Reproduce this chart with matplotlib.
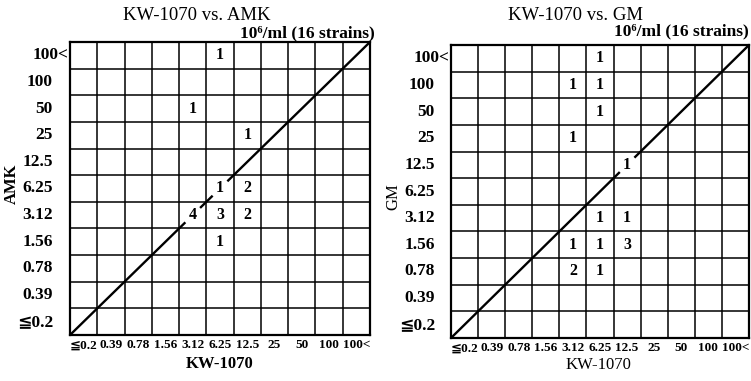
import numpy as np
import matplotlib
matplotlib.use('Agg')
import matplotlib.pyplot as plt

# MIC categories (same for both axes)
levels = ["≦0.2", "0.39", "0.78", "1.56", "3.12", "6.25", "12.5", "25", "50", "100", "100<"]

# KW-1070 vs AMK : (KW-1070 MIC, AMK MIC, number of strains)
amk_x = ["6.25", "3.12", "12.5", "6.25", "12.5", "3.12", "6.25", "12.5", "6.25"]
amk_y = ["100<", "50", "25", "6.25", "6.25", "3.12", "3.12", "3.12", "1.56"]
amk_n = [1, 1, 1, 1, 2, 4, 3, 2, 1]

# KW-1070 vs GM
gm_x = ["6.25", "3.12", "6.25", "6.25", "3.12", "12.5", "6.25", "12.5",
        "3.12", "6.25", "12.5", "3.12", "6.25"]
gm_y = ["100<", "100", "100", "50", "25", "12.5", "3.12", "3.12",
        "1.56", "1.56", "1.56", "0.78", "0.78"]
gm_n = [1, 1, 1, 1, 1, 1, 1, 1, 1, 1, 3, 2, 1]

SERIF = ['Liberation Serif', 'DejaVu Sans', 'Noto Sans CJK JP']
plt.rcParams['font.family'] = SERIF

W, H = 751, 381
fig = plt.figure(figsize=(W / 100, H / 100), dpi=100)


def rect(l, r, t, b):
    return [l / W, 1 - b / H, (r - l) / W, (b - t) / H]


def px(x, y):
    return x / W, 1 - y / H


def panel(ax, xs, ys, ns, ylab_right_px):
    n = len(levels)
    ax.set_xlim(0, n)
    ax.set_ylim(0, n)
    ax.set_xticks(range(n + 1))
    ax.set_yticks(range(n + 1))
    ax.set_xticklabels([])
    ax.set_yticklabels([])
    ax.grid(True, color='black', lw=1.1)
    ax.set_axisbelow(True)
    for s in ax.spines.values():
        s.set_linewidth(1.6)
    ax.set_xticks(np.arange(n) + 0.5, minor=True)
    ax.set_xticklabels(levels, minor=True, fontsize=9.5, fontweight='bold')
    ax.tick_params(which='both', length=0)
    ax.tick_params(which='minor', axis='x', pad=3)
    # y category labels
    width_px = ax.get_position().width * W
    for i, lab in enumerate(levels):
        off = ylab_right_px if not lab.endswith('<') else 2
        ax.text(-off / width_px, i + 0.5, lab, transform=ax.get_yaxis_transform(),
                ha='right', va='center', fontsize=12.5, fontweight='bold')
    # counts
    diag = []
    for x, y, c in zip(xs, ys, ns):
        ix, iy = levels.index(x), levels.index(y)
        ax.text(ix + 0.5, iy + 0.5, str(c), ha='center', va='center',
                fontsize=11.5, fontweight='bold')
        if ix == iy:
            diag.append(ix + 0.5)
    # identity line, interrupted at numbers lying on it
    gap = 0.27
    start = 0
    for g in sorted(diag):
        ax.plot([start, g - gap], [start, g - gap], color='black', lw=1.7,
                solid_capstyle='butt', clip_on=False)
        start = g + gap
    ax.plot([start, n], [start, n], color='black', lw=1.7,
            solid_capstyle='butt', clip_on=False)


ax1 = fig.add_axes(rect(70, 370, 42, 335))
panel(ax1, amk_x, amk_y, amk_n, 17)
ax2 = fig.add_axes(rect(451, 749, 45, 338))
panel(ax2, gm_x, gm_y, gm_n, 16)

fig.text(*px(197, 15), "KW-1070 vs. AMK", ha='center', va='center', fontsize=13.5)
fig.text(*px(375, 33), "10⁶/ml (16 strains)", ha='right', va='center',
         fontsize=12.5, fontweight='bold')
fig.text(*px(576, 15), "KW-1070 vs. GM", ha='center', va='center', fontsize=13.5)
fig.text(*px(749, 31), "10⁶/ml (16 strains)", ha='right', va='center',
         fontsize=12.5, fontweight='bold')

fig.text(*px(12, 184), "AMK", rotation=90, ha='center', va='center',
         fontsize=12, fontweight='bold')
fig.text(*px(393, 197), "GM", rotation=90, ha='center', va='center', fontsize=12)

fig.text(*px(220, 364), "KW-1070", ha='center', va='center', fontsize=12, fontweight='bold')
fig.text(*px(598, 365), "KW-1070", ha='center', va='center', fontsize=12)

fig.savefig('out.png', dpi=100)
